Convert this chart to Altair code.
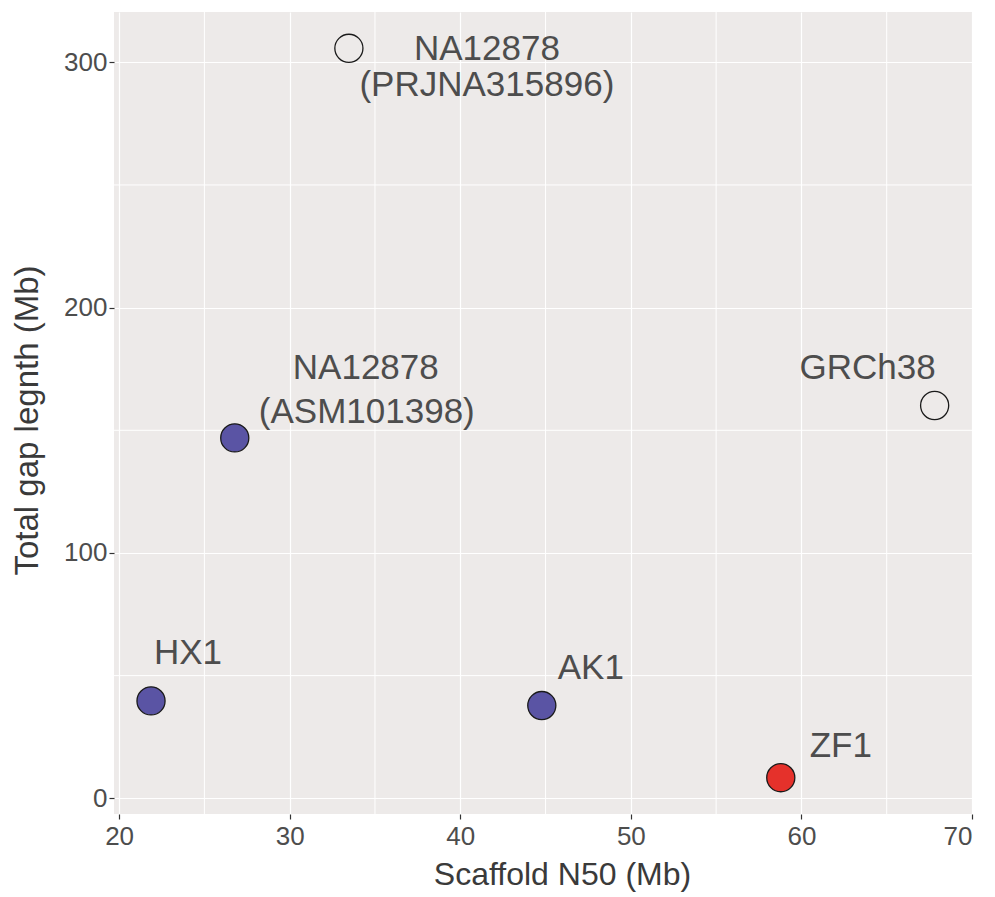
import altair as alt
import pandas as pd

# Assemblies: scaffold N50 vs. total gap length
samples = ["HX1", "AK1", "ZF1", "NA12878 (ASM101398)", "NA12878 (PRJNA315896)", "GRCh38"]
scaffold_n50 = [21.87, 44.78, 58.79, 26.78, 33.47, 67.81]
gap_length = [39.7, 37.8, 8.4, 146.9, 305.7, 160.1]
groups = ["other", "other", "ZF1", "other", "reference", "reference"]

x_ticks = [20, 30, 40, 50, 60, 70]
x_minor = [25, 35, 45, 55, 65]
y_ticks = [0, 100, 200, 300]
y_minor = [50, 150, 250]

# pixel offset of each label line's baseline from its point
label_offsets = {
    "HX1": [(37, -37)],
    "AK1": [(49, -27)],
    "ZF1": [(60, -21)],
    "NA12878 (ASM101398)": [(131, -59), (132, -15)],
    "NA12878 (PRJNA315896)": [(138, 12), (138, 48)],
    "GRCh38": [(-67, -27)],
}

FONT = "Liberation Sans, Arial, Helvetica, sans-serif"
PANEL = "#EDEAE9"
TEXT = "#4D4D4D"

df = pd.DataFrame({
    "sample": samples,
    "scaffold_n50": scaffold_n50,
    "gap_length": gap_length,
    "group": groups,
})

x_scale = alt.Scale(domain=[19.7, 70.0], nice=False, zero=False)
y_scale = alt.Scale(domain=[-6.4, 320.5], nice=False, zero=False)

x_axis = alt.Axis(
    values=x_ticks, title="Scaffold N50 (Mb)", grid=True, gridColor="white",
    gridWidth=1.2, domain=False, tickColor="#333333", tickSize=5, tickWidth=1.2,
    labelFontSize=26, labelColor=TEXT, labelPadding=4, labelFont=FONT,
    titleFont=FONT, titleFontSize=32, titleFontWeight="normal", titleColor="#3A3A3A",
    titleX=448, titleY=70, titleBaseline="alphabetic", titleAlign="center",
)
y_axis = alt.Axis(
    values=y_ticks, title="Total gap legnth (Mb)", grid=True, gridColor="white",
    gridWidth=1.2, domain=False, tickColor="#333333", tickSize=5, tickWidth=1.2,
    labelFontSize=26, labelColor=TEXT, labelPadding=2, labelFont=FONT,
    titleFont=FONT, titleFontSize=33, titleFontWeight="normal", titleColor="#3A3A3A",
    titleX=-77, titleY=408, titleBaseline="alphabetic", titleAlign="center",
    titleAngle=270,
)


def xenc():
    return alt.X("scaffold_n50:Q", scale=x_scale, axis=x_axis)


def yenc():
    return alt.Y("gap_length:Q", scale=y_scale, axis=y_axis)


# minor grid lines
minor_x = alt.Chart(pd.DataFrame({"scaffold_n50": x_minor})).mark_rule(
    color="white", strokeWidth=1
).encode(x=xenc())
minor_y = alt.Chart(pd.DataFrame({"gap_length": y_minor})).mark_rule(
    color="white", strokeWidth=1
).encode(y=yenc())

points = alt.Chart(df).mark_circle(
    size=790, stroke="#1A1A1A", strokeWidth=1.3, opacity=1
).encode(
    x=xenc(),
    y=yenc(),
    fill=alt.Fill(
        "group:N",
        scale=alt.Scale(domain=["other", "ZF1", "reference"],
                        range=["#5A54A4", "#E5312B", "transparent"]),
        legend=None,
    ),
)

layers = [minor_x, minor_y, points]
for name, offsets in label_offsets.items():
    lines = name.split(" ")
    for line, (dx, dy) in zip(lines, offsets):
        layers.append(
            alt.Chart(df)
            .transform_filter(alt.datum.sample == name)
            .mark_text(
                dx=dx, dy=dy, align="center", baseline="alphabetic",
                font=FONT, fontSize=35, color=TEXT,
            )
            .encode(x=xenc(), y=yenc(), text=alt.value(line))
        )

chart = (
    alt.layer(*layers)
    .properties(
        width=858,
        height=802,
        autosize=alt.AutoSizeParams(type="none"),
        padding={"left": 114, "top": 12, "right": 23, "bottom": 83},
        background="white",
    )
    .configure_view(fill=PANEL, stroke=None)
)

chart.save("out.html", embed_options={"renderer": "svg", "actions": False})
